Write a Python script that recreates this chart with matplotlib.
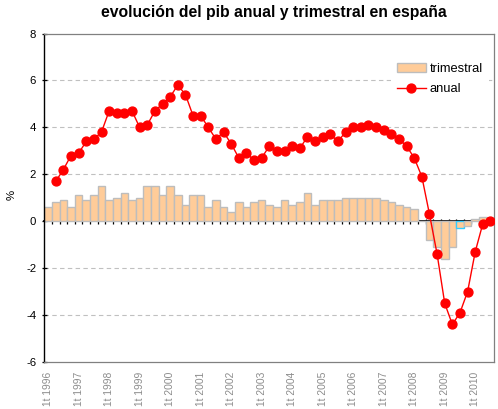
import numpy as np
import matplotlib
matplotlib.use("Agg")
import matplotlib.pyplot as plt
from matplotlib.lines import Line2D
from matplotlib.patches import Patch

plt.rcParams['font.family'] = ['Liberation Sans', 'DejaVu Sans']
plt.rcParams['axes.unicode_minus'] = False

# quarters 1t 1996 .. 3t 2010
years = list(range(1996, 2011))
quarters = [f"{q}t {y}" for y in years for q in (1, 2, 3, 4)][:59]

trimestral = [0.6, 0.8, 0.9, 0.6, 1.1, 0.9, 1.1, 1.5, 0.9, 1.0,
              1.2, 0.9, 1.0, 1.5, 1.5, 1.1, 1.5, 1.1, 0.7, 1.1,
              1.1, 0.6, 0.9, 0.6, 0.4, 0.8, 0.6, 0.8, 0.9, 0.7,
              0.6, 0.9, 0.7, 0.8, 1.2, 0.7, 0.9, 0.9, 0.9, 1.0,
              1.0, 1.0, 1.0, 1.0, 0.9, 0.8, 0.7, 0.6, 0.5, 0.0,
              -0.8, -1.1, -1.6, -1.1, -0.3, -0.2, 0.1, 0.2, 0.0]

anual = [np.nan, 1.7, 2.2, 2.8, 2.9, 3.4, 3.5, 3.8, 4.7, 4.6,
         4.6, 4.7, 4.0, 4.1, 4.7, 5.0, 5.3, 5.8, 5.4, 4.5,
         4.5, 4.0, 3.5, 3.8, 3.3, 2.7, 2.9, 2.6, 2.7, 3.2,
         3.0, 3.0, 3.2, 3.1, 3.6, 3.4, 3.6, 3.7, 3.4, 3.8,
         4.0, 4.0, 4.1, 4.0, 3.9, 3.7, 3.5, 3.2, 2.7, 1.9,
         0.3, -1.4, -3.5, -4.4, -3.9, -3.0, -1.3, -0.1, 0.0]

highlight = "3t 2009"

peach = '#FFCC99'
bar_edge = '#BDBDBD'

fig = plt.figure(figsize=(4.98, 4.09), dpi=100)
ax = fig.add_axes([44.3 / 498, 47 / 409, 450 / 498, 328.5 / 409])

x = np.arange(len(quarters))
edges = [('#33CCFF' if q == highlight else bar_edge) for q in quarters]
ax.bar(x, trimestral, width=1.0, color=peach, edgecolor=edges, linewidth=1.0, zorder=2)
ax.plot(x, anual, color='#FF0000', lw=1.0, marker='o', ms=6.4, mfc='#FF0000',
        mec='#FF0000', zorder=4)

ax.set_xlim(-0.5, len(quarters) - 0.5)
ax.set_ylim(-6, 8)
ax.set_yticks(range(-6, 9, 2))
for v in (-4, -2, 2, 4, 6):
    ax.axhline(v, color='#C0C0C0', lw=0.8, ls=(0, (4, 3)), zorder=1)

ax.set_xticks(x[::4])
ax.set_xticklabels(quarters[::4], rotation=90, color='#8C8C8C', fontsize=7.4)
ax.tick_params(axis='x', length=0, pad=7)
ax.tick_params(axis='y', direction='inout', length=3.6, width=0.9, pad=4, labelsize=8.2)

for s in ('top', 'right', 'bottom'):
    ax.spines[s].set_color('#808080')
    ax.spines[s].set_linewidth(0.9)
ax.spines['left'].set_color('black')
ax.spines['left'].set_linewidth(1.0)

# category axis crossing at zero
zero = ax.secondary_xaxis(6 / 14)
zero.set_xticks(np.arange(0.5, len(quarters) - 0.5, 1))
zero.set_xticklabels([])
zero.tick_params(direction='inout', length=3.6, width=0.9)
zero.spines['bottom'].set_linewidth(1.3)
zero.spines['bottom'].set_color('black')

handles = [Patch(facecolor=peach, edgecolor=bar_edge, label='trimestral'),
           Line2D([0], [0], color='#FF0000', lw=1.0, marker='o', ms=6.4, label='anual')]
leg = ax.legend(handles=handles, loc='upper left', bbox_to_anchor=(0.77, 0.93),
                frameon=True, fancybox=False, edgecolor='none', facecolor='white',
                framealpha=1, fontsize=9.3, handlelength=2.2, handleheight=0.6,
                handletextpad=0.3, labelspacing=0.65, borderaxespad=0, borderpad=0.5,
                markerscale=1.0)
leg.set_zorder(5)

fig.text(273.5 / 498, 1 - 12 / 409, 'evolución del pib anual y trimestral en españa',
         ha='center', va='center', fontsize=11.3, fontweight='bold')
fig.text(12 / 498, 1 - 195 / 409, '%', rotation=90, ha='center', va='center', fontsize=8.2)

fig.savefig('out.png', dpi=100)
